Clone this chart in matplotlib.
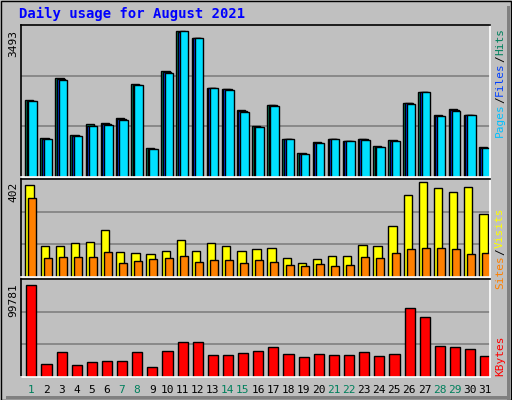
import matplotlib
matplotlib.use("Agg")
import matplotlib.pyplot as plt
from matplotlib.patches import Rectangle

days = list(range(1, 32))
weekends = [1, 7, 8, 14, 15, 21, 22, 28, 29]

hits = [1853, 927, 2376, 998, 1259, 1283, 1402, 2234, 689, 2542, 3493, 3327, 2139, 2115, 1592,
        1212, 1735, 903, 570, 832, 903, 855, 903, 737, 879, 1782, 2044, 1473, 1616, 1473, 713]
files = [1830, 915, 2340, 985, 1230, 1265, 1380, 2210, 675, 2515, 3480, 3320, 2139, 2100, 1575,
         1200, 1715, 903, 560, 820, 903, 855, 903, 725, 870, 1765, 2030, 1460, 1600, 1473, 705]
pages = [1820, 905, 2330, 975, 1215, 1250, 1365, 2200, 665, 2500, 3493, 3327, 2139, 2080, 1560,
         1190, 1700, 903, 555, 815, 903, 855, 890, 720, 865, 1755, 2044, 1450, 1590, 1473, 700]
visits = [389, 129, 133, 142, 146, 198, 107, 103, 98, 111, 155, 111, 142, 133, 111,
          120, 124, 81, 59, 77, 90, 90, 137, 129, 216, 346, 402, 376, 359, 380, 268]
sites = [336, 81, 85, 85, 85, 107, 59, 68, 77, 81, 90, 64, 72, 72, 59,
         72, 64, 51, 46, 55, 46, 51, 85, 81, 103, 120, 124, 124, 120, 98, 103]
kbytes = [99781, 13865, 26637, 12773, 16048, 17140, 17140, 26637, 10589, 27729, 37554, 37554,
          23690, 23690, 25873, 27729, 32096, 24454, 21179, 24454, 23690, 23690, 26637, 22598,
          24454, 74672, 64846, 33187, 32096, 29913, 22598]

W, H = 512, 400
BG = "#c0c0c0"
fig = plt.figure(figsize=(W / 100, H / 100), dpi=100, facecolor=BG)

# outer frame with shadow
fig.patches.append(Rectangle((1 / W, 0), 510 / W, 399 / H, transform=fig.transFigure,
                             fill=False, edgecolor="black", lw=1))
fig.patches.append(Rectangle((507 / W, 0), 3 / W, 394 / H, transform=fig.transFigure,
                             color="#808080", lw=0))
fig.patches.append(Rectangle((6 / W, 1 / H), 504 / W, 3 / H, transform=fig.transFigure,
                             color="#808080", lw=0))

mono = "DejaVu Sans Mono"


def make_ax(top, bottom, vmax):
    ax = fig.add_axes([21 / W, (H - bottom) / H, 469 / W, (bottom - top) / H], facecolor=BG)
    ax.set_xlim(0.33, 31.33)
    ax.set_ylim(0, vmax)
    ax.set_xticks([])
    ax.set_yticks([])
    for s in ax.spines.values():
        s.set_linewidth(1.2)
    ax.spines["bottom"].set_color("white")
    ax.spines["right"].set_color("white")
    for f in (1 / 3, 2 / 3):
        ax.axhline(vmax * f, color="#808080", lw=1.2, zorder=0)
    return ax


# pages / files / hits
ax1 = make_ax(25, 177, 3493 / 0.96)
ax1.bar([d - 0.4 for d in days], hits, width=0.55, align="edge", color="#00805c", edgecolor="black", lw=1)
ax1.bar([d - 0.3 for d in days], files, width=0.55, align="edge", color="#0040ff", edgecolor="black", lw=1)
ax1.bar([d - 0.18 for d in days], pages, width=0.56, align="edge", color="#00e0ff", edgecolor="black", lw=1)

# visits / sites
ax2 = make_ax(179, 277, 402 / 0.97)
ax2.bar([d - 0.38 for d in days], visits, width=0.55, align="edge", color="#ffff00", edgecolor="black", lw=1)
ax2.bar([d - 0.18 for d in days], sites, width=0.53, align="edge", color="#ff8000", edgecolor="black", lw=1)

# kbytes
ax3 = make_ax(279, 377, 99781 / 0.94)
ax3.bar([d - 0.32 for d in days], kbytes, width=0.67, align="edge", color="#ff0000", edgecolor="black", lw=1)

for d in days:
    ax3.text(d, -0.08, str(d), transform=ax3.get_xaxis_transform(), ha="center", va="top",
             fontsize=8, family=mono, color="#00805c" if d in weekends else "black")

fig.text(19 / W, 1 - 14 / H, "Daily usage for August 2021", color="#0000ff", fontsize=10,
         fontweight="bold", family=mono, va="center", ha="left")

for y, s in [(30, "3493"), (182, "402"), (283, "99781")]:
    fig.text(13 / W, 1 - y / H, s, rotation=90, ha="center", va="top", fontsize=8, family=mono)


def side_label(y_bottom, parts):
    # parts drawn from bottom up, rotated 90
    ypos = y_bottom
    for txt, col in parts:
        fig.text(500 / W, 1 - ypos / H, txt, rotation=90, ha="center", va="bottom",
                 fontsize=8, family=mono, color=col)
        ypos -= len(txt) * 6.8


side_label(137, [("Pages", "#00c0ff"), ("/", "black"), ("Files", "#0040ff"), ("/", "black"), ("Hits", "#00805c")])
side_label(289, [("Sites", "#ff8000"), ("/", "black"), ("Visits", "#ffff00")])
side_label(376, [("KBytes", "#ff0000")])

fig.savefig("out.png", dpi=100, facecolor=BG)
